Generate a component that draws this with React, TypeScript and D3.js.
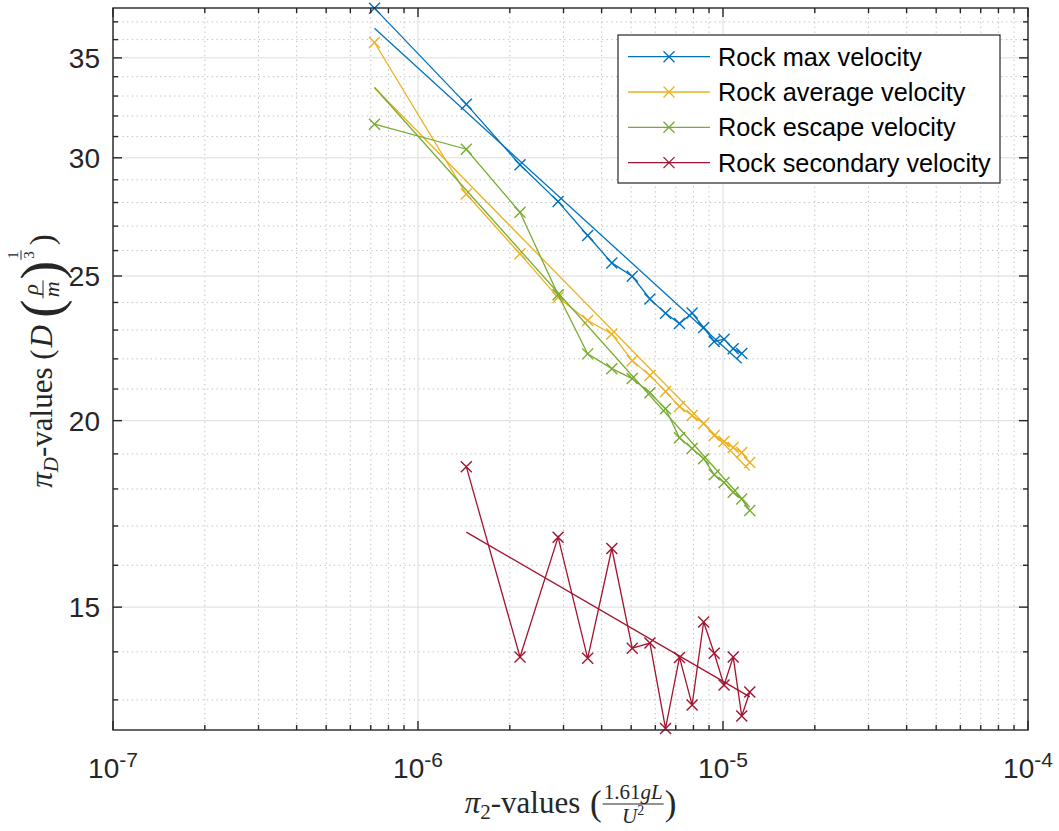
import React, { useEffect, useRef } from 'react';
import * as d3 from 'd3';

const W = 1059;
const H = 831;
const M = { left: 113, right: 1028, top: 8, bottom: 730 };

// Axis ranges and ticks
const xDomain = [1e-7, 1e-4];
const yDomain = [12.41, 37.8];
const xMajorTicks = [1e-7, 1e-6, 1e-5, 1e-4];
const xTickExponents = ['-7', '-6', '-5', '-4'];
const yMajorTicks = [15, 20, 25, 30, 35];
const yMinorTicks = [13, 14, 16, 17, 18, 19, 21, 22, 23, 24, 26, 27, 28, 29, 31, 32, 33, 34, 36, 37];

// Series data (pi_2 values vs pi_D values)
const maxX = [7.2e-7, 1.44e-6, 2.16e-6, 2.88e-6, 3.6e-6, 4.32e-6, 5.04e-6, 5.76e-6, 6.48e-6, 7.2e-6, 7.92e-6, 8.64e-6, 9.36e-6, 1.008e-5, 1.08e-5, 1.152e-5];
const maxY = [37.79, 32.59, 29.68, 28.04, 26.61, 25.51, 24.99, 24.13, 23.6, 23.23, 23.61, 23.09, 22.6, 22.68, 22.35, 22.18];

const avgX = [7.2e-7, 1.44e-6, 2.16e-6, 2.88e-6, 3.6e-6, 4.32e-6, 5.04e-6, 5.76e-6, 6.48e-6, 7.2e-6, 7.92e-6, 8.64e-6, 9.36e-6, 1.008e-5, 1.08e-5, 1.152e-5, 1.224e-5];
const avgY = [35.84, 28.37, 25.87, 24.18, 23.34, 22.86, 21.94, 21.44, 20.92, 20.44, 20.16, 19.91, 19.55, 19.37, 19.19, 19.04, 18.75];

const escX = [7.2e-7, 1.44e-6, 2.16e-6, 2.88e-6, 3.6e-6, 4.32e-6, 5.04e-6, 5.76e-6, 6.48e-6, 7.2e-6, 7.92e-6, 8.64e-6, 9.36e-6, 1.008e-5, 1.08e-5, 1.152e-5, 1.224e-5];
const escY = [31.6, 30.4, 27.58, 24.29, 22.17, 21.67, 21.34, 20.88, 20.37, 19.48, 19.16, 18.86, 18.4, 18.18, 17.91, 17.72, 17.41];

const secX = [1.44e-6, 2.16e-6, 2.88e-6, 3.6e-6, 4.32e-6, 5.04e-6, 5.76e-6, 6.48e-6, 7.2e-6, 7.92e-6, 8.64e-6, 9.36e-6, 1.008e-5, 1.08e-5, 1.152e-5, 1.224e-5];
const secY = [18.63, 13.89, 16.71, 13.86, 16.42, 14.08, 14.19, 12.44, 13.88, 12.9, 14.66, 13.97, 13.3, 13.89, 12.68, 13.16];

// Power-law fit end points
const maxFitX = [7.2e-7, 1.152e-5];
const maxFitY = [36.64, 21.85];
const avgFitX = [7.2e-7, 1.224e-5];
const avgFitY = [33.44, 18.52];
const escFitX = [7.2e-7, 1.224e-5];
const escFitY = [33.44, 17.5];
const secFitX = [1.44e-6, 1.224e-5];
const secFitY = [16.84, 13.06];

const seriesNames = ['Rock max velocity', 'Rock average velocity', 'Rock escape velocity', 'Rock secondary velocity'];
const seriesColors = ['#0072BD', '#EDB120', '#77AC30', '#A2142F'];

const AX = '#262626';
const SANS = '"Liberation Sans", Arial, Helvetica, sans-serif';
const SERIF = '"Liberation Serif", "Times New Roman", serif';

type TP = { kind: 't'; t: string; size: number; italic?: boolean; dy?: number; dx?: number };
type FP = { kind: 'f'; num: TP[]; den: TP[]; axis: number; gapN: number; gapD: number; pad: number };
type Piece = TP | FP;

const T = (t: string, size: number, italic = false, dy = 0, dx = 0): TP => ({ kind: 't', t, size, italic, dy, dx });

function runText(g: any, pieces: TP[], x0: number, baseY: number): number {
  let cx = x0;
  for (const p of pieces) {
    cx += p.dx || 0;
    const t = g
      .append('text')
      .attr('x', cx)
      .attr('y', baseY + (p.dy || 0))
      .attr('font-size', p.size)
      .attr('font-style', p.italic ? 'italic' : 'normal')
      .attr('fill', AX)
      .style('white-space', 'pre')
      .text(p.t);
    cx += (t.node() as SVGTextElement).getComputedTextLength();
  }
  return cx - x0;
}

function layoutMath(g: any, pieces: Piece[]): number {
  let cx = 0;
  for (const p of pieces) {
    if (p.kind === 't') {
      cx += runText(g, [p], cx, 0);
    } else {
      const gn = g.append('g');
      const wn = runText(gn, p.num, 0, 0);
      const gd = g.append('g');
      const wd = runText(gd, p.den, 0, 0);
      const w = Math.max(wn, wd) + 2 * p.pad;
      gn.attr('transform', `translate(${cx + (w - wn) / 2},${-p.axis - p.gapN})`);
      gd.attr('transform', `translate(${cx + (w - wd) / 2},${-p.axis + p.gapD})`);
      g.append('line')
        .attr('x1', cx + 1)
        .attr('x2', cx + w - 1)
        .attr('y1', -p.axis)
        .attr('y2', -p.axis)
        .attr('stroke', AX)
        .attr('stroke-width', 1);
      cx += w;
    }
  }
  return cx;
}

export default function App() {
  const ref = useRef<SVGSVGElement>(null);

  useEffect(() => {
    const svg = d3.select(ref.current);
    svg.selectAll('*').remove();

    const x = d3.scaleLog().domain(xDomain).range([M.left, M.right]);
    const y = d3.scaleLog().domain(yDomain).range([M.bottom, M.top]);

    const xAllTicks = x.ticks();
    const xMinor = xAllTicks.filter((v) => !xMajorTicks.some((m) => Math.abs(v / m - 1) < 1e-6));

    svg.append('rect').attr('width', W).attr('height', H).attr('fill', '#fff');

    const grid = svg.append('g');
    xMinor.forEach((v) => {
      grid.append('line').attr('x1', x(v)).attr('x2', x(v)).attr('y1', M.top).attr('y2', M.bottom)
        .attr('stroke', '#bdbdbd').attr('stroke-width', 1).attr('stroke-dasharray', '1.3,3.4');
    });
    yMinorTicks.forEach((v) => {
      grid.append('line').attr('x1', M.left).attr('x2', M.right).attr('y1', y(v)).attr('y2', y(v))
        .attr('stroke', '#bdbdbd').attr('stroke-width', 1).attr('stroke-dasharray', '1.3,3.4');
    });
    xMajorTicks.forEach((v) => {
      grid.append('line').attr('x1', x(v)).attr('x2', x(v)).attr('y1', M.top).attr('y2', M.bottom)
        .attr('stroke', '#dcdcdc').attr('stroke-width', 1);
    });
    yMajorTicks.forEach((v) => {
      grid.append('line').attr('x1', M.left).attr('x2', M.right).attr('y1', y(v)).attr('y2', y(v))
        .attr('stroke', '#dcdcdc').attr('stroke-width', 1);
    });

    const line = d3.line<[number, number]>().x((d) => x(d[0])).y((d) => y(d[1]));
    const sets = [
      { xs: maxX, ys: maxY, fx: maxFitX, fy: maxFitY },
      { xs: avgX, ys: avgY, fx: avgFitX, fy: avgFitY },
      { xs: escX, ys: escY, fx: escFitX, fy: escFitY },
      { xs: secX, ys: secY, fx: secFitX, fy: secFitY },
    ];
    const ms = 5.5;
    const dataG = svg.append('g');
    sets.forEach((s, i) => {
      const c = seriesColors[i];
      const pts: [number, number][] = s.xs.map((v, k) => [v, s.ys[k]]);
      dataG.append('path').attr('d', line(pts)).attr('fill', 'none').attr('stroke', c).attr('stroke-width', 1.3);
      pts.forEach((p) => {
        const px = x(p[0]);
        const py = y(p[1]);
        dataG.append('path')
          .attr('d', `M${px - ms},${py - ms}L${px + ms},${py + ms}M${px - ms},${py + ms}L${px + ms},${py - ms}`)
          .attr('stroke', c).attr('stroke-width', 1.4).attr('fill', 'none');
      });
      const fpts: [number, number][] = s.fx.map((v, k) => [v, s.fy[k]]);
      dataG.append('path').attr('d', line(fpts)).attr('fill', 'none').attr('stroke', c).attr('stroke-width', 1.3);
    });

    const ax = svg.append('g').attr('stroke', AX).attr('stroke-width', 1.4);
    ax.append('rect').attr('x', M.left).attr('y', M.top).attr('width', M.right - M.left).attr('height', M.bottom - M.top).attr('fill', 'none');
    const majL = 9;
    const minL = 5;
    xMajorTicks.forEach((v) => {
      ax.append('line').attr('x1', x(v)).attr('x2', x(v)).attr('y1', M.bottom).attr('y2', M.bottom - majL);
      ax.append('line').attr('x1', x(v)).attr('x2', x(v)).attr('y1', M.top).attr('y2', M.top + majL);
    });
    xMinor.forEach((v) => {
      ax.append('line').attr('x1', x(v)).attr('x2', x(v)).attr('y1', M.bottom).attr('y2', M.bottom - minL);
      ax.append('line').attr('x1', x(v)).attr('x2', x(v)).attr('y1', M.top).attr('y2', M.top + minL);
    });
    yMajorTicks.forEach((v) => {
      ax.append('line').attr('x1', M.left).attr('x2', M.left + majL).attr('y1', y(v)).attr('y2', y(v));
      ax.append('line').attr('x1', M.right).attr('x2', M.right - majL).attr('y1', y(v)).attr('y2', y(v));
    });
    yMinorTicks.forEach((v) => {
      ax.append('line').attr('x1', M.left).attr('x2', M.left + minL).attr('y1', y(v)).attr('y2', y(v));
      ax.append('line').attr('x1', M.right).attr('x2', M.right - minL).attr('y1', y(v)).attr('y2', y(v));
    });

    const tl = svg.append('g').attr('font-family', SANS).attr('fill', AX);
    yMajorTicks.forEach((v) => {
      tl.append('text').attr('x', M.left - 13).attr('y', y(v)).attr('dy', '0.36em')
        .attr('text-anchor', 'end').attr('font-size', 28).text(String(v));
    });
    xMajorTicks.forEach((v, i) => {
      const t = tl.append('text').attr('x', x(v)).attr('y', 778).attr('text-anchor', 'middle').attr('font-size', 28);
      t.append('tspan').text('10');
      t.append('tspan').attr('dy', -11).attr('font-size', 21).text(xTickExponents[i]);
    });

    // x label
    const xl = svg.append('g').attr('font-family', SERIF);
    const xlInner = xl.append('g');
    const xw = layoutMath(xlInner, [
      T('π', 31, true),
      T('2', 21, false, 6),
      T('-values ', 31),
      T('(', 35, false, 2, 2),
      { kind: 'f', num: [T('1.61', 21), T('gL', 21, true)], den: [T('U', 21, true), T('2', 14, false, -8)], axis: 9, gapN: 5, gapD: 19, pad: 2 },
      T(')', 35, false, 2),
    ]);
    xl.attr('transform', `translate(${(M.left + M.right) / 2 - xw / 2},813)`);

    // y label
    const yl = svg.append('g').attr('font-family', SERIF);
    const ylInner = yl.append('g');
    const yw = layoutMath(ylInner, [
      T('π', 31, true),
      T('D', 21, true, 6),
      T('-values (', 31),
      T('D', 31, true, 0, 2),
      T('(', 56, false, 8, 7),
      { kind: 'f', num: [T('ρ', 22, true)], den: [T('m', 22, true)], axis: 9, gapN: 5, gapD: 16, pad: 2 },
      T(')', 56, false, 8),
      { kind: 'f', num: [T('1', 15)], den: [T('3', 15)], axis: 31, gapN: 3, gapD: 13, pad: 2 },
      T(')', 33, false, 1, 4),
    ]);
    ylInner.attr('transform', `translate(${-yw / 2},0)`);
    yl.attr('transform', `translate(52,361) rotate(-90)`);

    // legend
    const lg = svg.append('g');
    const lx0 = 618;
    const ly0 = 35;
    lg.append('rect').attr('x', lx0).attr('y', ly0).attr('width', 382).attr('height', 148)
      .attr('fill', '#fff').attr('stroke', AX).attr('stroke-width', 1.2);
    seriesNames.forEach((name, i) => {
      const cy = 56.7 + i * 35.3;
      const c = seriesColors[i];
      lg.append('line').attr('x1', 628).attr('x2', 710).attr('y1', cy).attr('y2', cy).attr('stroke', c).attr('stroke-width', 1.3);
      lg.append('path')
        .attr('d', `M${669 - ms},${cy - ms}L${669 + ms},${cy + ms}M${669 - ms},${cy + ms}L${669 + ms},${cy - ms}`)
        .attr('stroke', c).attr('stroke-width', 1.3);
      lg.append('text').attr('x', 718).attr('y', cy).attr('dy', '0.36em').attr('font-family', SANS)
        .attr('font-size', 25.3).attr('fill', '#000').text(name);
    });
  }, []);

  return <svg ref={ref} width={W} height={H} style={{ position: 'absolute', left: 0, top: 0 }} />;
}
